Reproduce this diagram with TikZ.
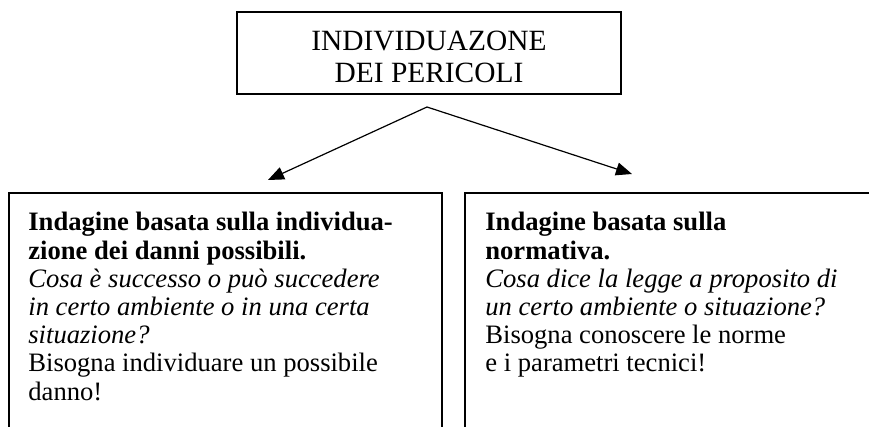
\documentclass[tikz,border=0pt]{standalone}
\usepackage{fontspec}
\setmainfont{Liberation Serif}
\usetikzlibrary{positioning, arrows.meta}

\begin{document}
\begin{tikzpicture}[x=0.5pt, y=-0.5pt,
  boxline/.style={line width=0.7pt},
  txt/.style={inner sep=0pt, align=left, anchor=north west, font=\fontsize{13.3}{14.1}\selectfont},
  arr/.style={line width=0.6pt, -{Triangle[length=8pt,width=6.5pt]}}]

\useasboundingbox (0,0) rectangle (869,427);

%//top box
\draw[boxline] (237,12) rectangle (621,94);
\node[inner sep=0pt, align=center, font=\fontsize{14.7}{15.6}\selectfont] (pericoli) at (429,57) {INDIVIDUAZONE\\DEI PERICOLI};

%//the two boxes below, cut at the bottom
\draw[boxline] (9,427) -- (9,193) -- (442,193) -- (442,427);
\draw[boxline] (465,427) -- (465,193) -- (869,193);

\node[txt] (danni) at (28,212) {\textbf{Indagine basata sulla individua-}\\
  \textbf{zione dei danni possibili.}\\
  \textit{Cosa è successo o può succedere}\\
  \textit{in certo ambiente o in una certa}\\
  \textit{situazione?}\\
  Bisogna individuare un possibile\\
  danno!};

\node[txt] (norme) at (485,212) {\textbf{Indagine basata sulla}\\
  \textbf{normativa.}\\
  \textit{Cosa dice la legge a proposito di}\\
  \textit{un certo ambiente o situazione?}\\
  Bisogna conoscere le norme\\
  e i parametri tecnici!};

%//arrows
\coordinate (split) at (427,107);
\coordinate (tipL) at (268,180);
\coordinate (tipR) at (632,174);
\draw[arr] (split) -- (tipL);
\draw[arr] (split) -- (tipR);

\end{tikzpicture}
\end{document}
